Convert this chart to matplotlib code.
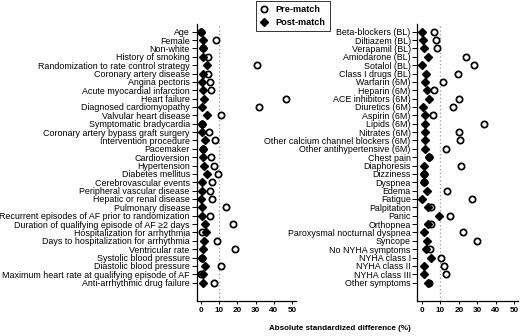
import matplotlib.pyplot as plt
from matplotlib.lines import Line2D

plt.rcParams['font.family'] = ['Liberation Sans', 'DejaVu Sans']

# Left panel: baseline characteristics
left_labels = [
    'Age', 'Female', 'Non-white', 'History of smoking',
    'Randomization to rate control strategy', 'Coronary artery disease',
    'Angina pectoris', 'Acute myocardial infarction', 'Heart failure',
    'Diagnosed cardiomyopathy', 'Valvular heart disease',
    'Symptomatic bradycardia', 'Coronary artery bypass graft surgery',
    'Intervention procedure', 'Pacemaker', 'Cardioversion', 'Hypertension',
    'Diabetes mellitus', 'Cerebrovascular events',
    'Peripheral vascular disease', 'Hepatic or renal disease',
    'Pulmonary disease', 'Recurrent episodes of AF prior to randomization',
    'Duration of qualifying episode of AF \u22652 days',
    'Hospitalization for arrhythmia', 'Days to hospitalization for arrhythmia',
    'Ventricular rate', 'Systolic blood pressure', 'Diastolic blood pressure',
    'Maximum heart rate at qualifying episode of AF',
    'Anti-arrhythmic drug failure',
]
left_pre = [0.5, 8.2, 1.5, 4.2, 30.7, 4.2, 5.1, 5.7, 46.6, 31.6, 11.1, 0.6,
            4.6, 7.8, 1.5, 5.7, 7.5, 9.3, 6.0, 5.1, 6.4, 13.6, 5.1, 17.7,
            0.6, 8.7, 19.0, 1.0, 11.4, 0.3, 7.3]
left_post = [0.3, 1.5, 1.5, 1.5, 3.3, 1.5, 1.0, 1.5, 2.1, 1.0, 3.3, 0.6,
             0.6, 2.4, 1.5, 1.5, 2.1, 3.3, 1.0, 1.0, 0.0, 0.6, 0.6, 2.4,
             3.0, 2.1, 1.5, 1.0, 2.4, 1.5, 1.5]

# Right panel: medications and symptoms
right_labels = [
    'Beta-blockers (BL)', 'Diltiazem (BL)', 'Verapamil (BL)',
    'Amiodarone (BL)', 'Sotalol (BL)', 'Class I drugs (BL)', 'Warfarin (6M)',
    'Heparin (6M)', 'ACE inhibitors (6M)', 'Diuretics (6M)', 'Aspirin (6M)',
    'Lipids (6M)', 'Nitrates (6M)', 'Other calcium channel blockers (6M)',
    'Other antihypertensive (6M)', 'Chest pain', 'Diaphoresis', 'Dizziness',
    'Dyspnea', 'Edema', 'Fatigue', 'Palpitation', 'Panic', 'Orthopnea',
    'Paroxysmal nocturnal dyspnea', 'Syncope', 'No NYHA symptoms',
    'NYHA class I', 'NYHA class II', 'NYHA class III', 'Other symptoms',
]
right_pre = [6.5, 7.6, 8.3, 24.1, 28.1, 19.6, 11.5, 6.7, 20.0, 16.9, 6.1,
             33.5, 20.0, 20.5, 12.8, 4.0, 20.9, 1.1, 1.1, 13.7, 27.2, 4.7,
             15.1, 4.7, 22.3, 29.9, 4.3, 10.3, 11.9, 13.0, 4.0]
right_post = [0.2, 0.7, 1.3, 3.1, 0.2, 2.0, 1.6, 2.5, 4.0, 0.7, 1.6, 1.6,
              1.6, 1.6, 1.6, 4.0, 1.1, 1.1, 1.1, 2.5, 0.2, 3.4, 9.2, 3.1,
              1.3, 2.9, 2.2, 4.9, 1.3, 1.1, 3.5]

W, H = 520, 336
fig = plt.figure(figsize=(W / 100, H / 100), dpi=100)
ax_l = fig.add_axes([196.5 / W, 35 / H, 99.5 / W, 277 / H])
ax_r = fig.add_axes([417.3 / W, 35 / H, 100.7 / W, 277 / H])

circle_style = dict(linestyle='none', marker='o', markersize=4.5,
                    markerfacecolor='white', markeredgecolor='black',
                    markeredgewidth=1.25)
diamond_style = dict(linestyle='none', marker='D', markersize=3.6,
                     color='black')


def draw_panel(ax, labels, pre, post, xmin):
    y = list(range(len(labels)))
    ax.axvline(10, color='#999999', linestyle=(0, (1, 2)), linewidth=0.9, zorder=1)
    ax.plot(pre, y, zorder=2, **circle_style)
    ax.plot(post, y, zorder=3, **diamond_style)
    ax.set_yticks(y)
    ax.set_yticklabels(labels, fontsize=6.4)
    ax.set_ylim(32.2, -0.92)
    ax.set_xlim(xmin, 52)
    ax.set_xticks([0, 10, 20, 30, 40, 50])
    ax.set_xticklabels(['0', '10', '20', '30', '40', '50'],
                       fontsize=5.9, fontweight='bold')
    ax.tick_params(axis='y', length=3.5, width=0.7, pad=1.3)
    ax.tick_params(axis='x', length=2.5, width=0.7, pad=2)
    for s in ['top', 'right']:
        ax.spines[s].set_visible(False)
    for s in ['left', 'bottom']:
        ax.spines[s].set_linewidth(0.9)


draw_panel(ax_l, left_labels, left_pre, left_post, -2.2)
draw_panel(ax_r, right_labels, right_pre, right_post, -2.5)

fig.text(340 / W, 1 - 329 / H, 'Absolute standardized difference (%)',
         ha='center', va='center', fontsize=5.8, fontweight='bold')

handles = [Line2D([], [], **circle_style), Line2D([], [], **diamond_style)]
leg = fig.legend(handles, ['Pre-match', 'Post-match'], loc='upper left',
                 bbox_to_anchor=(255 / W, 1.0), frameon=True,
                 fancybox=False, edgecolor='black', handlelength=0.9,
                 handletextpad=0.8, borderpad=0.45, labelspacing=0.45,
                 borderaxespad=0.1, prop={'size': 6.6, 'weight': 'bold'})
leg.get_frame().set_linewidth(0.7)

fig.savefig('out.png', dpi=100)
